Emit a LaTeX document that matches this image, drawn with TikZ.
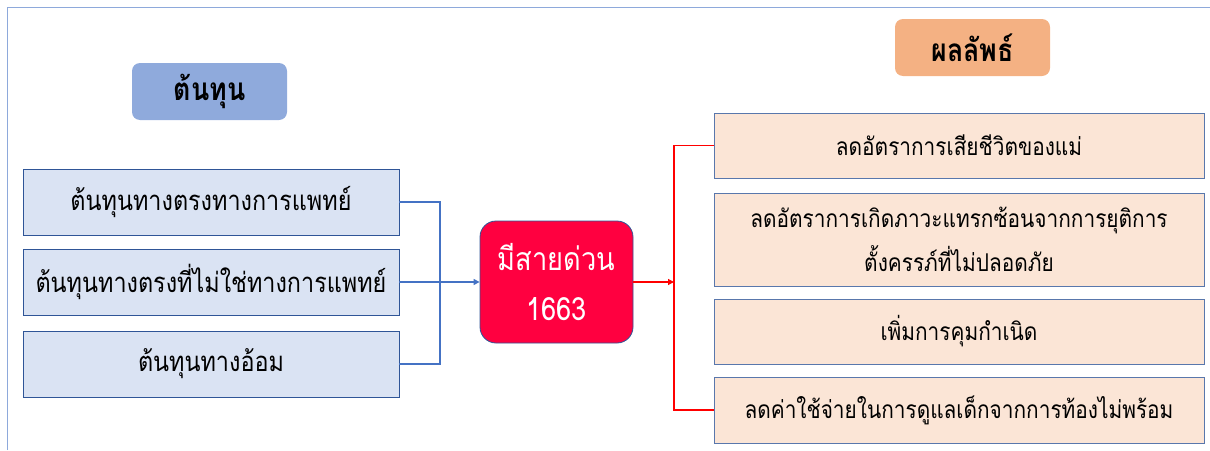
\documentclass[tikz,border=0pt]{standalone}
\usepackage{fontspec}
\newfontfamily\thaifont[Script=Thai, FakeStretch=0.85]{Loma}
\usetikzlibrary{arrows.meta}
\definecolor{frameblue}{HTML}{8EA9DB}
\definecolor{hdblue}{HTML}{8FAADC}
\definecolor{lfill}{HTML}{DAE3F3}
\definecolor{rfill}{HTML}{FBE5D6}
\definecolor{hdorange}{HTML}{F4B183}
\definecolor{edgeblue}{HTML}{2F5597}
\definecolor{conblue}{HTML}{4472C4}
\definecolor{hotred}{HTML}{FF0040}
\tikzset{
  every node/.style={font=\thaifont},
  header/.style={rounded corners=8pt, inner sep=0pt, font=\thaifont\fontsize{31.5}{34}\selectfont\bfseries},
  lbox/.style={draw=edgeblue, line width=0.8pt, fill=lfill, minimum width=376pt, minimum height=66pt, inner sep=0pt, font=\thaifont\fontsize{27.5}{30}\selectfont},
  rbox/.style={draw=edgeblue!80, line width=0.8pt, fill=rfill, minimum width=490pt, inner sep=0pt, align=center, font=\thaifont\fontsize{24.5}{44}\selectfont},
  hub/.style={draw=edgeblue, line width=0.8pt, fill=hotred, rounded corners=16pt, minimum width=153pt, minimum height=122pt, inner sep=0pt, align=center, text=white, font=\thaifont\fontsize{32}{50}\selectfont},
  bcon/.style={conblue, line width=1.2pt},
  rcon/.style={red, line width=1.2pt},
  tip/.style={-{Triangle[length=6pt,width=6pt]}}
}
\begin{document}
\begin{tikzpicture}[x=1pt,y=-1pt]
\useasboundingbox (0,0) rectangle (1210,450);
\draw[frameblue, line width=1pt] (7,450) -- (7,7) -- (1210,7);
% headers
\node[header, fill=hdblue, minimum width=155pt, minimum height=57pt] (h1) at (209.5,91.5) {ต้นทุน};
\node[header, fill=hdorange, minimum width=155pt, minimum height=57pt] (h2) at (972.5,47.5) {ผลลัพธ์};
% left boxes
\node[lbox] (l1) at (211,202) {ต้นทุนทางตรงทางการแพทย์};
\node[lbox] (l2) at (211,282) {ต้นทุนทางตรงที่ไม่ใช่ทางการแพทย์};
\node[lbox] (l3) at (211,364) {ต้นทุนทางอ้อม};
% hub
\node[hub] (c) at (556.5,282) {มีสายด่วน\\1663};
% right boxes
\node[rbox, minimum height=65pt] (r1) at (959,145.5) {ลดอัตราการเสียชีวิตของแม่};
\node[rbox, minimum height=93pt] (r2) at (959,239.5) {ลดอัตราการเกิดภาวะแทรกซ้อนจากการยุติการ\\ตั้งครรภ์ที่ไม่ปลอดภัย};
\node[rbox, minimum height=65pt] (r3) at (959,331.5) {เพิ่มการคุมกำเนิด};
\node[rbox, minimum height=66pt] (r4) at (959,410) {ลดค่าใช้จ่ายในการดูแลเด็กจากการท้องไม่พร้อม};
% connectors
\coordinate (jb) at (440,282);
\coordinate (jr) at (674,282);
\draw[bcon] (l1.east) -| (jb) |- (l3.east);
\draw[bcon, tip] (l2.east) -- (c.west);
\draw[rcon, tip] (c.east) -- (jr);
\draw[rcon] (r1.west) -| (jr) |- (r4.west);
\end{tikzpicture}
\end{document}
